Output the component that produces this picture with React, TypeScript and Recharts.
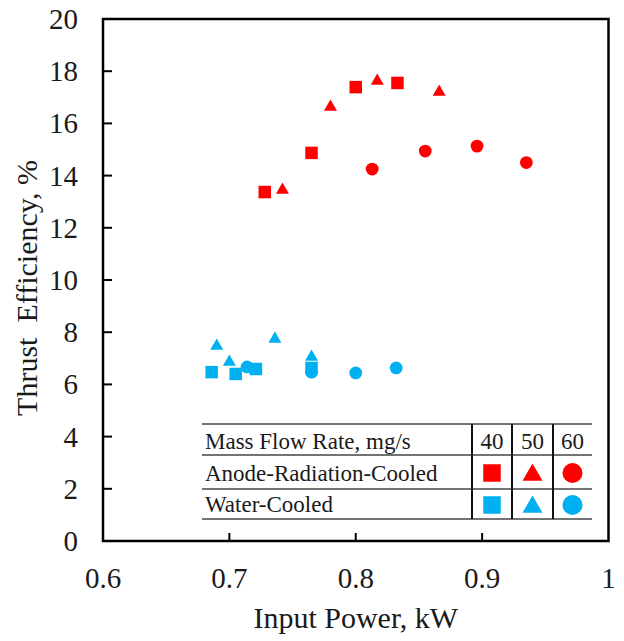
import { Legend, ReferenceArea, Scatter, ScatterChart, XAxis, YAxis } from "recharts";

const RED = "#ff0000";
const BLUE = "#00b0f0";
const INK = "#1a1a1a";
const FONT = '"Liberation Serif", "Times New Roman", serif';

const xTicks = [0.6, 0.7, 0.8, 0.9, 1];
const yTicks = [0, 2, 4, 6, 8, 10, 12, 14, 16, 18, 20];
const flowRates = ["40", "50", "60"];

// anode-radiation-cooled thruster
const anode40 = [
  { power: 0.728, eff: 13.37 },
  { power: 0.765, eff: 14.87 },
  { power: 0.8, eff: 17.39 },
  { power: 0.833, eff: 17.55 },
];
const anode50 = [
  { power: 0.742, eff: 13.45 },
  { power: 0.78, eff: 16.63 },
  { power: 0.817, eff: 17.62 },
  { power: 0.866, eff: 17.2 },
];
const anode60 = [
  { power: 0.813, eff: 14.25 },
  { power: 0.855, eff: 14.94 },
  { power: 0.896, eff: 15.13 },
  { power: 0.935, eff: 14.5 },
];

// water-cooled thruster
const water40 = [
  { power: 0.686, eff: 6.47 },
  { power: 0.705, eff: 6.4 },
  { power: 0.721, eff: 6.59 },
  { power: 0.765, eff: 6.63 },
];
const water50 = [
  { power: 0.69, eff: 7.47 },
  { power: 0.7, eff: 6.86 },
  { power: 0.736, eff: 7.74 },
  { power: 0.765, eff: 7.05 },
];
const water60 = [
  { power: 0.714, eff: 6.67 },
  { power: 0.765, eff: 6.47 },
  { power: 0.8, eff: 6.44 },
  { power: 0.832, eff: 6.63 },
];

function drawSquare(cx: number, cy: number, s: number, fill: string) {
  return <rect x={cx - s / 2} y={cy - s / 2} width={s} height={s} fill={fill} />;
}

function drawTriangle(cx: number, cy: number, side: number, fill: string) {
  const h = (side * Math.sqrt(3)) / 2;
  const pts = `${cx},${cy - (2 * h) / 3} ${cx - side / 2},${cy + h / 3} ${cx + side / 2},${cy + h / 3}`;
  return <polygon points={pts} fill={fill} />;
}

function drawCircle(cx: number, cy: number, d: number, fill: string) {
  return <circle cx={cx} cy={cy} r={d / 2} fill={fill} />;
}

const squareShape = (fill: string) => (p: any) => drawSquare(p.cx, p.cy, 12.5, fill);
const triangleShape = (fill: string) => (p: any) => drawTriangle(p.cx, p.cy, 13, fill);
const circleShape = (fill: string) => (p: any) => drawCircle(p.cx, p.cy, 12.8, fill);

function XTick({ x, y, payload }: any) {
  const v = payload.value;
  return (
    <g>
      {v > 0.6 && v < 1 && <line x1={x} x2={x} y1={y} y2={y - 8} stroke="#000" strokeWidth={2} />}
      <text x={x} y={y + 47} textAnchor="middle" fontFamily={FONT} fontSize={29} fill={INK}>
        {v === 1 ? "1" : v.toFixed(1)}
      </text>
    </g>
  );
}

function YTick({ x, y, payload }: any) {
  const v = payload.value;
  return (
    <g>
      {v > 0 && v < 20 && <line x1={x} x2={x + 9} y1={y} y2={y} stroke="#000" strokeWidth={2} />}
      <text x={x - 25} y={y + 10} textAnchor="end" fontFamily={FONT} fontSize={29} fill={INK}>
        {v}
      </text>
    </g>
  );
}

function LegendTable() {
  const rowsY = [424, 455, 489, 519];
  const colsX = [472, 512, 553];
  const markerX = [492, 532.5, 572.5];
  const textStyle = { fontFamily: FONT, fontSize: 23, fill: INK };
  return (
    <svg width={400} height={106} viewBox="200 418 400 106" style={{ display: "block" }}>
      {rowsY.map((y) => (
        <line key={y} x1={202} x2={592} y1={y} y2={y} stroke="#444" strokeWidth={1.5} />
      ))}
      {colsX.map((x) => (
        <line key={x} x1={x} x2={x} y1={424} y2={519} stroke="#111" strokeWidth={2} />
      ))}
      <text x={205} y={449} {...textStyle}>Mass Flow Rate, mg/s</text>
      <text x={205} y={481} {...textStyle}>Anode-Radiation-Cooled</text>
      <text x={205} y={512} {...textStyle}>Water-Cooled</text>
      {flowRates.map((r, i) => (
        <text key={r} x={markerX[i]} y={449} textAnchor="middle" {...textStyle}>{r}</text>
      ))}
      {drawSquare(markerX[0], 473, 17.5, RED)}
      {drawTriangle(markerX[1], 475, 20, RED)}
      {drawCircle(markerX[2], 473, 20, RED)}
      {drawSquare(markerX[0], 505, 17.5, BLUE)}
      {drawTriangle(markerX[1], 507, 20, BLUE)}
      {drawCircle(markerX[2], 505, 20, BLUE)}
    </svg>
  );
}

function XLabel({ viewBox }: any) {
  const { x, width } = viewBox;
  return (
    <text x={x + width / 2} y={628} textAnchor="middle" fontFamily={FONT} fontSize={30} fill={INK}>
      Input Power, kW
    </text>
  );
}

function YLabel() {
  return (
    <text
      x={37}
      y={288}
      transform="rotate(-90 37 288)"
      textAnchor="middle"
      fontFamily={FONT}
      fontSize={30}
      fill={INK}
      style={{ whiteSpace: "pre" }}
    >
      {"Thrust  Efficiency, %"}
    </text>
  );
}

export default function App() {
  return (
    <div style={{ position: "absolute", left: 0, top: 0, background: "#fff" }}>
      <ScatterChart width={624} height={641} margin={{ top: 19, right: 15.5, bottom: 0, left: 0 }}>
        <XAxis
          type="number"
          dataKey="power"
          domain={[0.6, 1]}
          ticks={xTicks}
          height={100}
          axisLine={false}
          tickLine={false}
          tickSize={0}
          tickMargin={0}
          tick={XTick}
          label={XLabel}
          allowDataOverflow
        />
        <YAxis
          type="number"
          dataKey="eff"
          domain={[0, 20]}
          ticks={yTicks}
          width={103}
          axisLine={false}
          tickLine={false}
          tickSize={0}
          tickMargin={0}
          tick={YTick}
          label={YLabel}
          allowDataOverflow
        />
        <ReferenceArea x1={0.6} x2={1} y1={0} y2={20} fill="none" stroke="#000" strokeWidth={2.5} ifOverflow="visible" />
        <Scatter name="Anode 40" data={anode40} fill={RED} shape={squareShape(RED)} isAnimationActive={false} />
        <Scatter name="Anode 50" data={anode50} fill={RED} shape={triangleShape(RED)} isAnimationActive={false} />
        <Scatter name="Anode 60" data={anode60} fill={RED} shape={circleShape(RED)} isAnimationActive={false} />
        <Scatter name="Water 40" data={water40} fill={BLUE} shape={squareShape(BLUE)} isAnimationActive={false} />
        <Scatter name="Water 50" data={water50} fill={BLUE} shape={triangleShape(BLUE)} isAnimationActive={false} />
        <Scatter name="Water 60" data={water60} fill={BLUE} shape={circleShape(BLUE)} isAnimationActive={false} />
        <Legend
          layout="horizontal"
          verticalAlign="middle"
          align="center"
          wrapperStyle={{ position: "absolute", left: 200, top: 418, width: 400, height: 106 }}
          content={() => <LegendTable />}
        />
      </ScatterChart>
    </div>
  );
}
